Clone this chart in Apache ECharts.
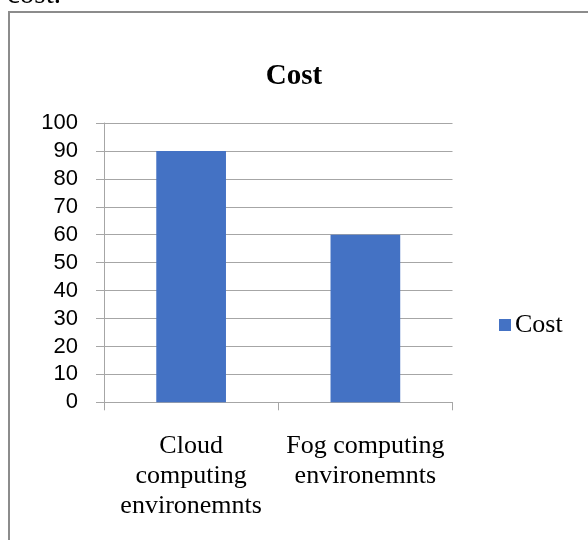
<!DOCTYPE html>
<html>
<head>
<meta charset="utf-8">
<script src="https://cdn.jsdelivr.net/npm/echarts@6/dist/echarts.min.js"></script>
<style>
  html, body { margin: 0; padding: 0; background: #fff; }
  #chart { width: 588px; height: 540px; }
</style>
</head>
<body>
<div id="chart"></div>
<script>
// Cost comparison between the two computing environments
const categories = ['Cloud\ncomputing\nenvironemnts', 'Fog computing\nenvironemnts'];
const costValues = [90, 60];
const seriesName = 'Cost';
const yTicks = { min: 0, max: 100, interval: 10 };

const serif = '"Liberation Serif", "Times New Roman", serif';
const sans = '"Liberation Sans", Arial, sans-serif';

const chart = echarts.init(document.getElementById('chart'), null, { renderer: 'canvas' });

chart.setOption({
  animation: false,
  backgroundColor: '#ffffff',
  title: {
    text: 'Cost',
    left: 'center',
    top: 57,
    textStyle: { fontFamily: serif, fontWeight: 'bold', fontSize: 29, color: '#000' }
  },
  legend: {
    data: [seriesName],
    left: 494,
    top: 307,
    icon: 'rect',
    itemWidth: 12,
    itemHeight: 12,
    itemGap: 10,
    textStyle: { fontFamily: serif, fontSize: 26, color: '#000', padding: [0, 0, 0, -1] }
  },
  grid: { left: 104, top: 123, width: 348.5, height: 279.3, containLabel: false },
  xAxis: {
    type: 'category',
    data: categories,
    boundaryGap: true,
    axisLine: { show: true, lineStyle: { color: '#a6a6a6', width: 1 } },
    axisTick: { show: true, length: 8, alignWithLabel: false, lineStyle: { color: '#a6a6a6' } },
    axisLabel: {
      margin: 29,
      interval: 0,
      fontFamily: serif,
      fontSize: 26,
      lineHeight: 30,
      color: '#000',
      align: 'center'
    },
    splitLine: { show: false }
  },
  yAxis: {
    type: 'value',
    min: yTicks.min,
    max: yTicks.max,
    interval: yTicks.interval,
    axisLine: { show: true, lineStyle: { color: '#a6a6a6', width: 1 } },
    axisTick: { show: true, length: 8, inside: false, lineStyle: { color: '#a6a6a6' } },
    axisLabel: { margin: 26, fontFamily: sans, fontSize: 22, color: '#000' },
    splitLine: { show: true, lineStyle: { color: '#a6a6a6', width: 1 } }
  },
  series: [{
    name: seriesName,
    type: 'bar',
    data: costValues,
    barWidth: '40%',
    itemStyle: { color: '#4472C4' }
  }],
  graphic: [
    {
      type: 'rect',
      shape: { x: 9, y: 12, width: 620, height: 560 },
      style: { fill: 'none', stroke: '#8c8c8c', lineWidth: 2 },
      silent: true
    },
    {
      type: 'text',
      x: 7,
      y: -5,
      style: { text: 'cost.', font: '29px ' + serif, fill: '#000', verticalAlign: 'middle', align: 'left' },
      silent: true
    }
  ]
});
</script>
</body>
</html>
